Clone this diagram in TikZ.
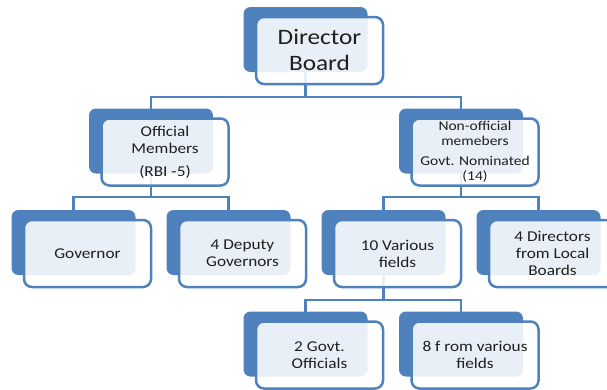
\documentclass[tikz,border=0pt]{standalone}
\usepackage{fontspec}
\setmainfont{Carlito}[FakeStretch=1.15]
\usepackage{xcolor}
\usepackage{tikz}
\usetikzlibrary{positioning}
\usetikzlibrary{backgrounds}

\definecolor{boxblue}{HTML}{4F81BD}
\definecolor{textgray}{HTML}{1F1F1F}

\tikzset{
  backbox/.style={fill=boxblue, rounded corners=7pt, minimum width=124pt, minimum height=65pt, inner sep=0pt},
  frontbox/.style={draw=boxblue, line width=2.5pt, fill=white, fill opacity=0.88, text opacity=1,
    rounded corners=8pt, minimum width=127pt, minimum height=67pt, inner sep=2pt,
    align=center, text=textgray, font=\fontsize{15}{17}\selectfont},
  link/.style={draw=boxblue, line width=2.5pt}
}

\begin{document}
\begin{tikzpicture}[x=1pt, y=-1pt]

  \useasboundingbox (0,0) rectangle (607,389);

  % Back boxes
  \node[backbox] (b-dir) at (305.5,39.5) {};
  \node[backbox] (b-off) at (151,141) {};
  \node[backbox] (b-non) at (461,141) {};
  \node[backbox] (b-gov) at (73.5,242.5) {};
  \node[backbox] (b-dep) at (228.5,242.5) {};
  \node[backbox] (b-var) at (383.5,242.5) {};
  \node[backbox] (b-loc) at (538.5,242.5) {};
  \node[backbox] (b-gof) at (305.5,344) {};
  \node[backbox] (b-eig) at (461,344) {};

  % Front boxes
  \node[frontbox, font=\fontsize{22}{26}\selectfont] (f-dir) at ([shift={(14,11)}]b-dir.center) {Director\\Board};
  \node[frontbox] (f-off) at ([shift={(14,11)}]b-off.center) {Official\\Members\\[6pt](RBI -5)};
  \node[frontbox, font=\fontsize{13.5}{15}\selectfont] (f-non) at ([shift={(14,11)}]b-non.center) {Non-official\\memebers\\[5pt]Govt. Nominated\\(14)};
  \node[frontbox] (f-gov) at ([shift={(14,11)}]b-gov.center) {Governor};
  \node[frontbox] (f-dep) at ([shift={(14,11)}]b-dep.center) {4 Deputy\\Governors};
  \node[frontbox] (f-var) at ([shift={(14,11)}]b-var.center) {10 Various\\fields};
  \node[frontbox] (f-loc) at ([shift={(14,11)}]b-loc.center) {4 Directors\\from Local\\Boards};
  \node[frontbox] (f-gof) at ([shift={(14,11)}]b-gof.center) {2 Govt.\\Officials};
  \node[frontbox] (f-eig) at ([shift={(14,11)}]b-eig.center) {8 f rom various\\fields};

  % Connect nodes
  \begin{scope}[on background layer]
    \draw[link] (b-dir.center) -- ++(0,57.5) -| (b-off.center);
    \draw[link] (b-dir.center) -- ++(0,57.5) -| (b-non.center);
    \draw[link] (b-off.center) -- ++(0,56) -| (b-gov.center);
    \draw[link] (b-off.center) -- ++(0,56) -| (b-dep.center);
    \draw[link] (b-non.center) -- ++(0,56) -| (b-var.center);
    \draw[link] (b-non.center) -- ++(0,56) -| (b-loc.center);
    \draw[link] (b-var.center) -- ++(0,57.5) -| (b-gof.center);
    \draw[link] (b-var.center) -- ++(0,57.5) -| (b-eig.center);
  \end{scope}

\end{tikzpicture}
\end{document}
